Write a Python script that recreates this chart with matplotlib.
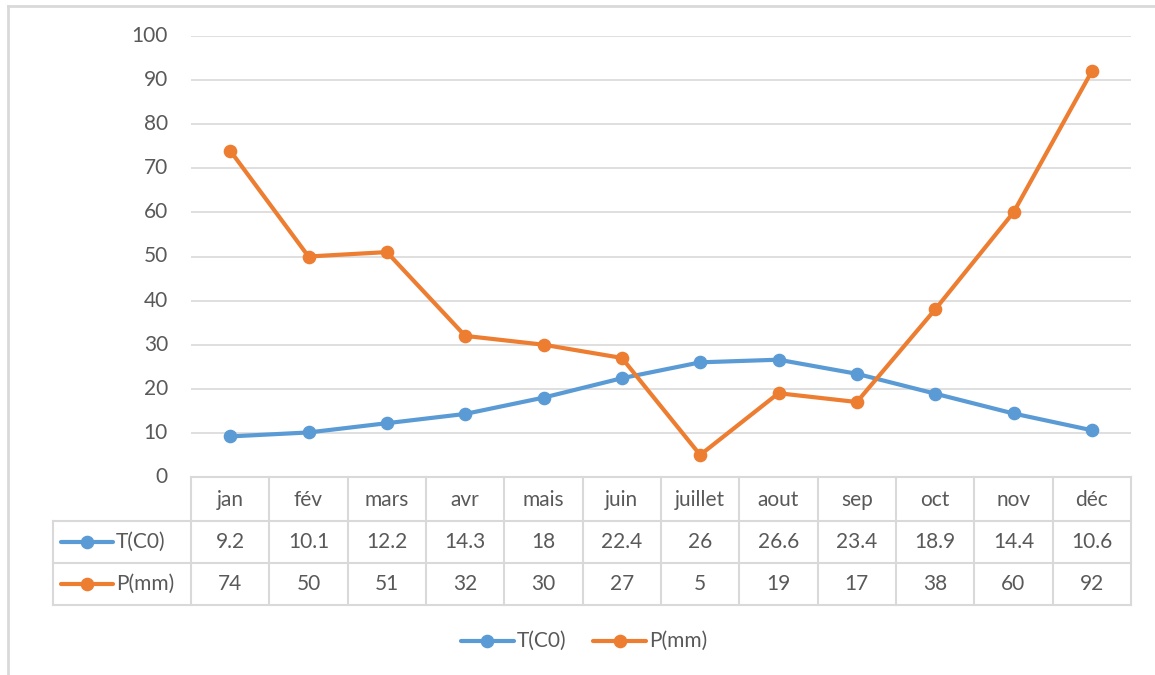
import matplotlib
matplotlib.use("Agg")
import matplotlib.pyplot as plt
from matplotlib.lines import Line2D
from matplotlib.transforms import blended_transform_factory

months = ["jan", "fév", "mars", "avr", "mais", "juin", "juillet", "aout", "sep", "oct", "nov", "déc"]
temp = [9.2, 10.1, 12.2, 14.3, 18, 22.4, 26, 26.6, 23.4, 18.9, 14.4, 10.6]
precip = [74, 50, 51, 32, 30, 27, 5, 19, 17, 38, 60, 92]
temp_labels = ["9.2", "10.1", "12.2", "14.3", "18", "22.4", "26", "26.6", "23.4", "18.9", "14.4", "10.6"]
precip_labels = ["74", "50", "51", "32", "30", "27", "5", "19", "17", "38", "60", "92"]
series_names = ["T(C0)", "P(mm)"]
yticks = [0, 10, 20, 30, 40, 50, 60, 70, 80, 90, 100]

W, H = 1155, 675
BLUE = "#5B9BD5"
ORANGE = "#ED7D31"
GRID = "#D9D9D9"
TXT = "#595959"
FONT = "Lato"
FS = 15

plt.rcParams["font.family"] = [FONT, "DejaVu Sans"]

fig = plt.figure(figsize=(W / 100, H / 100), dpi=100)
fig.patch.set_facecolor("white")

def fx(x):
    return x / W

def fy(y):
    return 1 - y / H

left, right, top, bottom = 191, 1131, 36, 477
ax = fig.add_axes([fx(left), fy(bottom), fx(right) - fx(left), fy(top) - fy(bottom)])
ax.set_xlim(0, len(months))
ax.set_ylim(0, 100)
for s in ax.spines.values():
    s.set_visible(False)
ax.set_xticks([])
ax.set_yticks(yticks)
ax.set_yticklabels([])
ax.tick_params(axis="y", length=0)
for v in yticks[1:]:
    ax.axhline(v, color=GRID, lw=1.2, zorder=0)

xs = [i + 0.5 for i in range(len(months))]
ax.plot(xs, temp, color=BLUE, lw=3.0, marker="o", ms=8.8, zorder=3, clip_on=False)
ax.plot(xs, precip, color=ORANGE, lw=3.0, marker="o", ms=8.8, zorder=4, clip_on=False)

# y tick labels
ty = blended_transform_factory(fig.transFigure, ax.transData)
for v in yticks:
    fig.text(fx(168), v, str(v), transform=ty, ha="right", va="center",
             fontsize=FS, color=TXT)

# table
bt = blended_transform_factory(ax.transData, fig.transFigure)
row_y = [477, 521, 563, 605]
fig.add_artist(Line2D([fx(left), fx(right)], [fy(477), fy(477)], color=GRID, lw=1.5))
for yy in row_y[1:]:
    fig.add_artist(Line2D([fx(53), fx(right)], [fy(yy), fy(yy)], color=GRID, lw=1.5))
fig.add_artist(Line2D([fx(53), fx(53)], [fy(521), fy(605)], color=GRID, lw=1.5))
for k in range(len(months) + 1):
    fig.add_artist(Line2D([k, k], [fy(477), fy(605)], transform=bt, color=GRID, lw=1.5))

head_y = (477 + 521) / 2 + 1
t_y = (521 + 563) / 2
p_y = (563 + 605) / 2
for i, m in enumerate(months):
    fig.text(xs[i], fy(head_y), m, transform=bt, ha="center", va="center", fontsize=FS, color=TXT)
    fig.text(xs[i], fy(t_y), temp_labels[i], transform=bt, ha="center", va="center", fontsize=FS, color=TXT)
    fig.text(xs[i], fy(p_y), precip_labels[i], transform=bt, ha="center", va="center", fontsize=FS, color=TXT)

def key(x0, x1, y, color, label):
    fig.add_artist(Line2D([fx(x0), fx(x1)], [fy(y), fy(y)], color=color, lw=3.0,
                          solid_capstyle="round"))
    fig.add_artist(Line2D([fx((x0 + x1) / 2)], [fy(y)], color=color, marker="o", ms=8.8, lw=0))
    fig.text(fx(x1 + 3), fy(y), label, ha="left", va="center", fontsize=FS, color=TXT)

key(61, 113, t_y, BLUE, series_names[0])
key(61, 113, p_y, ORANGE, series_names[1])

# legend
key(461, 514, 641, BLUE, series_names[0])
key(593, 646, 641, ORANGE, series_names[1])

# outer frame
fig.add_artist(Line2D([fx(8), fx(8)], [fy(6), 0], color=GRID, lw=2))
fig.add_artist(Line2D([fx(8), 1], [fy(6), fy(6)], color=GRID, lw=2))

fig.savefig("out.png", dpi=100, facecolor="white")
